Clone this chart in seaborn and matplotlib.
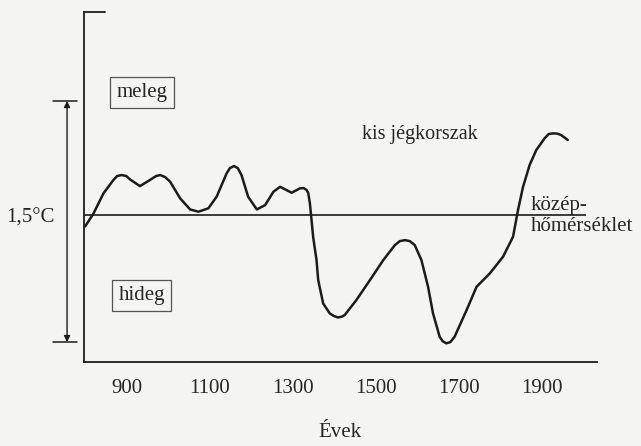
import matplotlib
matplotlib.use("Agg")
import matplotlib.pyplot as plt
import matplotlib.transforms as mtransforms
import seaborn as sns

# Temperature deviation from the mean (°C)
years = [799, 819, 843, 867, 876, 887, 898, 907, 931, 955, 970, 980, 992, 1004,
         1028, 1052, 1072, 1096, 1116, 1140, 1148, 1158, 1167, 1176, 1192, 1213,
         1233, 1253, 1269, 1297, 1317, 1326, 1333, 1337, 1341, 1349, 1357, 1361,
         1373, 1389, 1399, 1409, 1418, 1425, 1453, 1486, 1518, 1546, 1558, 1570,
         1582, 1594, 1610, 1626, 1638, 1654, 1661, 1670, 1680, 1690, 1719, 1743,
         1775, 1807, 1831, 1843, 1855, 1871, 1887, 1907, 1917, 1927, 1937, 1947,
         1963]
temps = [-0.07, 0.01, 0.135, 0.218, 0.243, 0.249, 0.243, 0.222, 0.18, 0.218,
         0.243, 0.249, 0.236, 0.207, 0.104, 0.035, 0.021, 0.042, 0.114, 0.259,
         0.292, 0.305, 0.292, 0.249, 0.114, 0.035, 0.062, 0.145, 0.176, 0.139,
         0.166, 0.168, 0.156, 0.137, 0.073, -0.14, -0.28, -0.404, -0.55, -0.612,
         -0.628, -0.637, -0.632, -0.622, -0.529, -0.404, -0.28, -0.187, -0.162,
         -0.156, -0.162, -0.187, -0.28, -0.446, -0.612, -0.757, -0.784, -0.798,
         -0.79, -0.757, -0.591, -0.446, -0.363, -0.259, -0.135, 0.031, 0.174,
         0.311, 0.404, 0.477, 0.504, 0.508, 0.507, 0.498, 0.467]

tick_years = [900, 1000, 1100, 1200, 1300, 1400, 1500, 1600, 1700, 1800, 1900]
tick_labels = ["900", "", "1100", "", "1300", "", "1500", "", "1700", "", "1900"]
range_top, range_bottom = 0.71, -0.79   # the 1,5°C span

sns.set_style("white")
plt.rcParams["font.family"] = ["Liberation Serif", "DejaVu Serif"]
ink = "#1c1c1c"
paper = "#f4f4f2"

fig = plt.figure(figsize=(6.41, 4.46), dpi=100, facecolor=paper)
ax = fig.add_axes([0.131, 0.188, 0.80, 0.785])
ax.set_facecolor(paper)

sns.lineplot(x=years, y=temps, ax=ax, color=ink, lw=1.8)
for ln in ax.lines:
    ln.set_solid_joinstyle("round")
    ln.set_solid_capstyle("round")

ax.set_xlim(796, 2033)
ax.set_ylim(-0.915, 1.263)

# mean temperature line
ax.hlines(0, 796, 2008, color=ink, lw=1.2)

for s in ["top", "right"]:
    ax.spines[s].set_visible(False)
for s in ["left", "bottom"]:
    ax.spines[s].set_color(ink)
    ax.spines[s].set_linewidth(1.3)
ax.plot([0, 0.041], [1, 1], transform=ax.transAxes, color=ink, lw=1.3, clip_on=False)

ax.set_xticks(tick_years)
ax.set_xticklabels(tick_labels, fontsize=15)
ax.tick_params(axis="x", direction="in", length=12, width=1.1, color=ink, pad=12)
ax.set_yticks([])
ax.set_xlabel("Évek", fontsize=15, labelpad=18)

# 1,5°C range arrow left of the axis
tr = mtransforms.blended_transform_factory(ax.transAxes, ax.transData)
ax.annotate("", xy=(-0.033, range_top), xytext=(-0.033, range_bottom),
            xycoords=tr, textcoords=tr,
            arrowprops=dict(arrowstyle="<|-|>", color=ink, lw=1.0,
                            mutation_scale=9, shrinkA=0, shrinkB=0))
for yv in [range_top, range_bottom]:
    ax.plot([-0.060, -0.0136], [yv, yv], transform=tr, color=ink, lw=1.1, clip_on=False)
ax.text(-0.104, -0.02, "1,5°C", transform=tr, fontsize=15, ha="center", va="center")

box = dict(boxstyle="square,pad=0.3", fc="none", ec="#555555", lw=0.9)
ax.text(0.113, 0.77, "meleg", transform=ax.transAxes, fontsize=15,
        ha="center", va="center", bbox=box)
ax.text(0.113, 0.191, "hideg", transform=ax.transAxes, fontsize=15,
        ha="center", va="center", bbox=box)

ax.text(0.655, 0.65, "kis jégkorszak", transform=ax.transAxes, fontsize=14.5,
        ha="center", va="center")
ax.text(0.871, 0.0, "közép-", transform=tr, fontsize=15, ha="left", va="bottom")
ax.text(0.871, -0.01, "hőmérséklet", transform=tr, fontsize=15, ha="left", va="top")

fig.savefig("out.png", dpi=100, facecolor=paper)
